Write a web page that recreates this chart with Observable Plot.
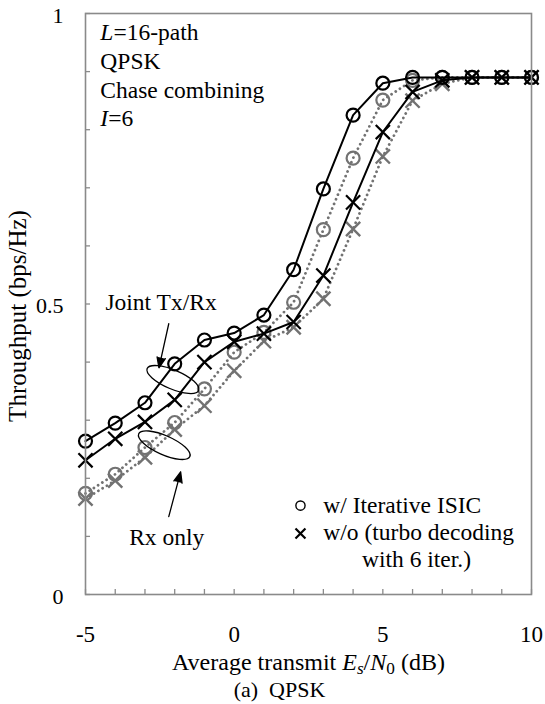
<!DOCTYPE html>
<html>
<head>
<meta charset="utf-8">
<script src="https://cdn.jsdelivr.net/npm/d3@7"></script>
<script src="https://cdn.jsdelivr.net/npm/@observablehq/plot@0.6"></script>
<style>
  html, body { margin: 0; padding: 0; background: #fff; }
</style>
</head>
<body>
<div id="chart"></div>
<script>
// ---- data ----
const xValues = [-5, -4, -3, -2, -1, 0, 1, 2, 3, 4, 5, 6, 7, 8, 9, 10];
const jointWithIsic    = [0.264, 0.295, 0.330, 0.397, 0.438, 0.450, 0.481, 0.559, 0.698, 0.825, 0.880, 0.890, 0.890, 0.890, 0.890, 0.890];
const jointWithoutIsic = [0.231, 0.268, 0.297, 0.335, 0.400, 0.435, 0.449, 0.469, 0.549, 0.675, 0.796, 0.865, 0.885, 0.890, 0.890, 0.890];
const rxWithIsic       = [0.174, 0.207, 0.253, 0.296, 0.354, 0.417, 0.451, 0.503, 0.628, 0.751, 0.851, 0.885, 0.890, 0.890, 0.890, 0.890];
const rxWithoutIsic    = [0.165, 0.196, 0.236, 0.284, 0.325, 0.385, 0.436, 0.460, 0.509, 0.629, 0.754, 0.850, 0.879, 0.890, 0.890, 0.890];

const xTicks = [-5, -4, -3, -2, -1, 0, 1, 2, 3, 4, 5, 6, 7, 8, 9, 10];
const xTickLabels = [-5, 0, 5, 10];
const yTicks = [0, 0.1, 0.2, 0.3, 0.4, 0.5, 0.6, 0.7, 0.8, 0.9, 1];
const yTickLabels = [0, 0.5, 1];

const xLabel = "Average transmit Es/N0 (dB)";
const yLabel = "Throughput (bps/Hz)";
const caption = "(a)\u00a0 QPSK";
const infoLines = ["L=16-path", "QPSK", "Chase combining", "I=6"];
const legendLabels = ["w/ Iterative ISIC", "w/o (turbo decoding", "with 6 iter.)"];
const groupLabels = ["Joint Tx/Rx", "Rx only"];

// ---- build tables ----
const mk = (vals, group, isic) => vals.map((v, i) => ({x: xValues[i], y: v, group, isic}));
const jointA = mk(jointWithIsic, "joint", true);
const jointB = mk(jointWithoutIsic, "joint", false);
const rxA = mk(rxWithIsic, "rx", true);
const rxB = mk(rxWithoutIsic, "rx", false);

const GREY = "#727272";
const FRAME = "#8a8a8a";
const FONT = "Liberation Serif, Times New Roman, serif";
const FS = 23.5;

// annotation anchors (data coordinates)
const infoAnno = infoLines.map((t, i) => ({t, x: -4.5, y: [0.967, 0.918, 0.868, 0.819][i]}));
const jointAnno = [{t: groupLabels[0], x: -4.33, y: 0.503}];
const rxAnno = [{t: groupLabels[1], x: -2.27, y: 0.099}];
const arrows = [
  {x1: -2.20, y1: 0.466, x2: -2.53, y2: 0.390},
  {x1: -2.20, y1: 0.134, x2: -1.80, y2: 0.211}
];
const ellipses = [
  {x: -2.06, y: 0.370, a: 23},
  {x: -2.35, y: 0.257, a: 24}
];
const legendCircle = [{x: 2.23, y: 0.153}];
const legendCross = [{x: 2.23, y: 0.105}];
const legendText = [
  {t: legendLabels[0], x: 3.0, y: 0.153},
  {t: legendLabels[1], x: 3.0, y: 0.107},
  {t: legendLabels[2], x: 4.3, y: 0.061}
];

function ellipseSymbol(rx, ry) {
  const k = 0.5523;
  return {
    draw(ctx) {
      ctx.moveTo(rx, 0);
      ctx.bezierCurveTo(rx, ry * k, rx * k, ry, 0, ry);
      ctx.bezierCurveTo(-rx * k, ry, -rx, ry * k, -rx, 0);
      ctx.bezierCurveTo(-rx, -ry * k, -rx * k, -ry, 0, -ry);
      ctx.bezierCurveTo(rx * k, -ry, rx, -ry * k, rx, 0);
      ctx.closePath();
    }
  };
}

const chart = Plot.plot({
  width: 545,
  height: 704,
  marginLeft: 85,
  marginRight: 14,
  marginTop: 13,
  marginBottom: 110,
  style: {fontFamily: FONT, fontSize: "22px", color: "black", background: "white"},
  x: {domain: [-5, 10]},
  y: {domain: [0, 1]},
  marks: [
    // inward tick marks
    Plot.axisY(yTicks, {tickSize: 5, dx: 5, text: null, stroke: FRAME, strokeWidth: 1.3, label: null}),
    Plot.axisX(xTicks, {tickSize: 5, dy: -5, text: null, stroke: FRAME, strokeWidth: 1.3, label: null}),
    // tick labels
    Plot.axisY(yTickLabels, {tickSize: 0, tickPadding: 22, fontSize: 22, dy: 2, label: null, tickFormat: d => String(d)}),
    Plot.axisX(xTickLabels, {tickSize: 0, tickPadding: 31, fontSize: 23, label: null, tickFormat: d => String(d)}),
    // axis titles and caption
    Plot.text([xLabel], {frameAnchor: "bottom", textAnchor: "middle", lineAnchor: "middle", dy: 68, fontSize: 24, text: d => d}),
    Plot.text([yLabel], {frameAnchor: "left", textAnchor: "middle", lineAnchor: "middle", dx: -68, dy: 12, rotate: -90, fontSize: 25, text: d => d}),
    Plot.text([caption], {frameAnchor: "bottom", textAnchor: "middle", lineAnchor: "middle", dx: -29, dy: 95, fontSize: 22, text: d => d}),
    // series lines
    Plot.line(rxA, {x: "x", y: "y", stroke: GREY, strokeWidth: 2.8, strokeDasharray: "0.01,5", strokeLinecap: "round"}),
    Plot.line(rxB, {x: "x", y: "y", stroke: GREY, strokeWidth: 2.8, strokeDasharray: "0.01,5", strokeLinecap: "round"}),
    Plot.dot(rxA, {x: "x", y: "y", symbol: "circle", r: 6.5, stroke: GREY, strokeWidth: 2.2, fill: "none"}),
    Plot.dot(rxB, {x: "x", y: "y", symbol: "times", r: 6.5, stroke: GREY, strokeWidth: 2.4}),
    Plot.line(jointA, {x: "x", y: "y", stroke: "black", strokeWidth: 2}),
    Plot.line(jointB, {x: "x", y: "y", stroke: "black", strokeWidth: 2}),
    Plot.dot(jointA, {x: "x", y: "y", symbol: "circle", r: 6.5, stroke: "black", strokeWidth: 2.2, fill: "none"}),
    Plot.dot(jointB, {x: "x", y: "y", symbol: "times", r: 6.5, stroke: "black", strokeWidth: 2.2}),
    // frame
    Plot.frame({stroke: FRAME, strokeWidth: 1.6}),
    // annotations
    Plot.text(infoAnno, {x: "x", y: "y", text: "t", textAnchor: "start", fontSize: FS}),
    Plot.text(jointAnno, {x: "x", y: "y", text: "t", textAnchor: "start", fontSize: FS}),
    Plot.text(rxAnno, {x: "x", y: "y", text: "t", textAnchor: "middle", fontSize: FS}),
    Plot.arrow(arrows, {x1: "x1", y1: "y1", x2: "x2", y2: "y2", stroke: "black", fill: "black", strokeWidth: 1.3, headLength: 13, headAngle: 44}),
    Plot.dot(ellipses, {x: "x", y: "y", rotate: "a", symbol: ellipseSymbol(28, 9.5), stroke: "black", strokeWidth: 1.3, fill: "none"}),
    // legend
    Plot.dot(legendCircle, {x: "x", y: "y", symbol: "circle", r: 4.6, stroke: "black", strokeWidth: 1.4, fill: "none"}),
    Plot.dot(legendCross, {x: "x", y: "y", symbol: "times", r: 4.6, stroke: "black", strokeWidth: 2.2}),
    Plot.text(legendText, {x: "x", y: "y", text: "t", textAnchor: "start", fontSize: FS})
  ]
});

document.getElementById("chart").appendChild(chart);

// rich text: italics and subscripts
const svg = d3.select(chart);
function rich(match, parts) {
  svg.selectAll("text").each(function() {
    const el = d3.select(this);
    if (el.selectAll("tspan").size() === 0 && el.text() === match) {
      el.text(null);
      for (const p of parts) {
        const ts = el.append("tspan").text(p.t);
        if (p.i) ts.attr("font-style", "italic");
        if (p.sub) ts.attr("font-size", "0.72em");
        if (p.dy) ts.attr("dy", p.dy);
      }
    }
  });
}
rich(infoLines[0], [{t: "L", i: true}, {t: "=16-path"}]);
rich(infoLines[3], [{t: "I", i: true}, {t: "=6"}]);
rich(xLabel, [
  {t: "Average transmit "}, {t: "E", i: true}, {t: "s", i: true, sub: true, dy: 4},
  {t: "/", dy: -4}, {t: "N", i: true}, {t: "0", sub: true, dy: 4}, {t: " (dB)", dy: -4}
]);
</script>
</body>
</html>
